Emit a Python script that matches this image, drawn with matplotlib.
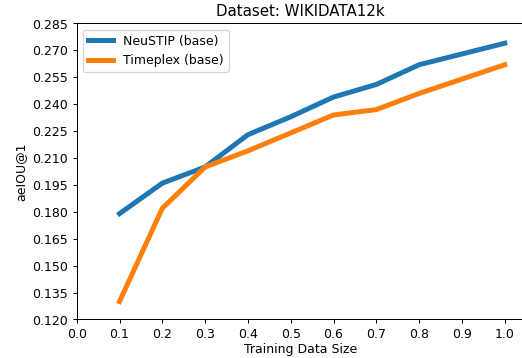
import matplotlib.pyplot as plt

sizes = [0.1, 0.2, 0.3, 0.4, 0.5, 0.6, 0.7, 0.8, 0.9, 1.0]
neustip = [0.179, 0.196, 0.205, 0.223, 0.233, 0.244, 0.251, 0.262, 0.268, 0.274]
timeplex = [0.130, 0.182, 0.205, 0.214, 0.224, 0.234, 0.237, 0.246, 0.254, 0.262]
yticks = [0.120, 0.135, 0.150, 0.165, 0.180, 0.195, 0.210, 0.225, 0.240, 0.255, 0.270, 0.285]
xticks = [0.0, 0.1, 0.2, 0.3, 0.4, 0.5, 0.6, 0.7, 0.8, 0.9, 1.0]

fig = plt.figure(figsize=(5.8, 3.978), dpi=90)
ax = fig.add_axes([76.7 / 522, 38.5 / 358, (524 - 76.7) / 522, (319.5 - 23.5) / 358])
ax.plot(sizes, neustip, lw=4, color='#1f77b4', label='NeuSTIP (base)')
ax.plot(sizes, timeplex, lw=4, color='#ff7f0e', label='Timeplex (base)')

ax.set_xlim(0, 1.045)
ax.set_ylim(0.120, 0.285)
ax.set_xticks(xticks)
ax.set_yticks(yticks)
ax.set_xticklabels(['%.1f' % v for v in xticks])
ax.set_yticklabels(['%.3f' % v for v in yticks])
ax.set_title('Dataset: WIKIDATA12k')
ax.set_xlabel('Training Data Size', labelpad=1)
ax.set_ylabel('aeIOU@1')
ax.legend(loc='upper left')

fig.savefig('out.png', dpi=90)
